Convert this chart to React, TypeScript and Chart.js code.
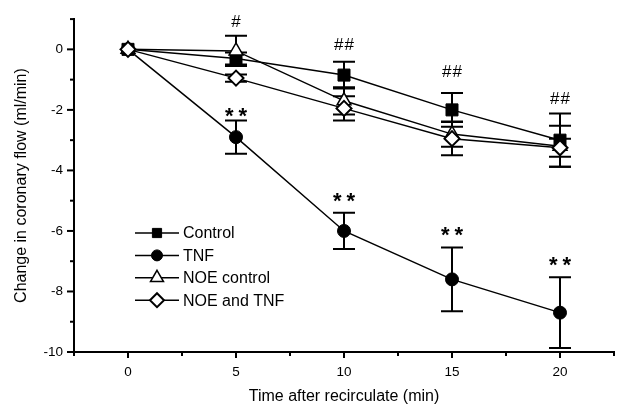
import React, { useEffect, useRef } from 'react';
import { Chart, registerables } from 'chart.js';
import { drawPoint } from 'chart.js/helpers';

Chart.register(...registerables);

const timePoints = [0, 5, 10, 15, 20];
const seriesLabels = ['Control', 'TNF', 'NOE control', 'NOE and TNF'];
const controlMean = [0, -0.3, -0.85, -2.0, -3.0];
const controlErr = [0, 0.2, 0.44, 0.56, 0.88];
const tnfMean = [0, -2.9, -6.0, -7.6, -8.7];
const tnfErr = [0, 0.55, 0.6, 1.05, 1.17];
const noeControlMean = [0, -0.05, -1.7, -2.8, -3.2];
const noeControlErr = [0, 0.5, 0.45, 0.42, 0.68];
const noeTnfMean = [0, -0.95, -1.95, -2.95, -3.25];
const noeTnfErr = [0, 0.12, 0.4, 0.55, 0.3];

const annotX = [5, 10, 15, 20, 5, 10, 15, 20];
const annotY = [0.94, 0.17, -0.73, -1.6, -1.99, -4.8, -5.92, -6.92];
const annotText = ['#', '##', '##', '##', '**', '**', '**', '**'];

const xTickLabels = ['0', '5', '10', '15', '20'];
const yTickLabels = ['0', '-2', '-4', '-6', '-8', '-10'];
const xTitle = 'Time after recirculate (min)';
const yTitle = 'Change in coronary flow (ml/min)';

const FONT = '"Liberation Sans", Arial, Helvetica, sans-serif';

const styles = [
  { pointStyle: 'rect', radius: 8.5, fill: '#000', bw: 1, legendR: 6.5 },
  { pointStyle: 'circle', radius: 6.5, fill: '#000', bw: 1, legendR: 5.5 },
  { pointStyle: 'triangle', radius: 8, fill: '#fff', bw: 1.5, legendR: 7.5 },
  { pointStyle: 'rectRot', radius: 7.5, fill: '#fff', bw: 2, legendR: 7 },
];

const means = [controlMean, tnfMean, noeControlMean, noeTnfMean];
const errs = [controlErr, tnfErr, noeControlErr, noeTnfErr];
const orders = [2, 3, 1, 0];

const customPlugin = {
  id: 'custom',
  beforeDatasetsDraw(chart: any) {
    const ctx = chart.ctx;
    const xs = chart.scales.x;
    const ys = chart.scales.y;
    ctx.save();
    ctx.strokeStyle = '#000';
    ctx.lineWidth = 2;
    errs.forEach((err, si) => {
      timePoints.forEach((t, i) => {
        if (!err[i]) return;
        const px = xs.getPixelForValue(t);
        const top = ys.getPixelForValue(means[si][i] + err[i]);
        const bot = ys.getPixelForValue(means[si][i] - err[i]);
        ctx.beginPath();
        ctx.moveTo(px, top);
        ctx.lineTo(px, bot);
        ctx.moveTo(px - 11, top);
        ctx.lineTo(px + 11, top);
        ctx.moveTo(px - 11, bot);
        ctx.lineTo(px + 11, bot);
        ctx.stroke();
      });
    });
    ctx.restore();
  },
  afterDraw(chart: any) {
    const ctx = chart.ctx;
    const xs = chart.scales.x;
    const ys = chart.scales.y;
    const area = chart.chartArea;
    ctx.save();
    ctx.strokeStyle = '#000';
    ctx.fillStyle = '#000';
    // tick marks
    ctx.lineWidth = 2;
    xs.ticks.forEach((tk: any) => {
      const px = xs.getPixelForValue(tk.value);
      const major = xTickLabels.includes(String(tk.value));
      ctx.beginPath();
      ctx.moveTo(px, area.bottom);
      ctx.lineTo(px, area.bottom + (major ? 6 : 4));
      ctx.stroke();
    });
    ys.ticks.forEach((tk: any) => {
      const py = ys.getPixelForValue(tk.value);
      const major = yTickLabels.includes(String(tk.value));
      ctx.beginPath();
      ctx.moveTo(area.left, py);
      ctx.lineTo(area.left - (major ? 7 : 4), py);
      ctx.stroke();
    });
    // titles
    ctx.font = `16px ${FONT}`;
    ctx.textAlign = 'center';
    ctx.textBaseline = 'middle';
    ctx.fillText(xTitle, (area.left + area.right) / 2, 397);
    ctx.save();
    ctx.translate(22, (area.top + area.bottom) / 2);
    ctx.rotate(-Math.PI / 2);
    ctx.fillText(yTitle, 0, 0);
    ctx.restore();
    // annotations
    ctx.textBaseline = 'alphabetic';
    annotText.forEach((txt, i) => {
      const px = xs.getPixelForValue(annotX[i]);
      const py = ys.getPixelForValue(annotY[i]);
      if (txt.startsWith('#')) {
        ctx.font = `17px ${FONT}`;
        (ctx as any).letterSpacing = '1px';
        ctx.fillText(txt, px + 0.5, py + 6);
      } else {
        ctx.font = `bold 22px ${FONT}`;
        (ctx as any).letterSpacing = '5px';
        ctx.fillText(txt, px + 2.5, py + 13);
      }
    });
    (ctx as any).letterSpacing = '0px';
    // legend
    ctx.font = `16px ${FONT}`;
    ctx.textAlign = 'left';
    ctx.textBaseline = 'middle';
    chart.data.datasets.forEach((ds: any, i: number) => {
      const y = 233 + i * 22.4;
      ctx.lineWidth = 1.5;
      ctx.strokeStyle = '#000';
      ctx.beginPath();
      ctx.moveTo(135, y);
      ctx.lineTo(179, y);
      ctx.stroke();
      const st = styles[i];
      ctx.fillStyle = st.fill;
      ctx.lineWidth = st.bw;
      drawPoint(ctx, { pointStyle: st.pointStyle as any, radius: st.legendR, rotation: 0, borderWidth: st.bw }, 157, y);
      ctx.fillStyle = '#000';
      ctx.fillText(ds.label, 183, y + 1);
    });
    ctx.restore();
  },
};

export default function App() {
  const ref = useRef<HTMLCanvasElement>(null);
  useEffect(() => {
    document.body.style.margin = '0';
    const canvas = ref.current!;
    const chart = new Chart(canvas, {
      type: 'line',
      data: {
        datasets: seriesLabels.map((label, si) => ({
          label,
          data: timePoints.map((t, i) => ({ x: t, y: means[si][i] })),
          borderColor: '#000',
          borderWidth: 1.5,
          backgroundColor: styles[si].fill,
          pointBackgroundColor: styles[si].fill,
          pointBorderColor: '#000',
          pointBorderWidth: styles[si].bw,
          pointStyle: styles[si].pointStyle as any,
          pointRadius: styles[si].radius,
          pointHoverRadius: styles[si].radius,
          fill: false,
          tension: 0,
          order: orders[si],
        })),
      },
      options: {
        responsive: false,
        animation: false,
        events: [],
        layout: { padding: { top: 16, right: 9, left: 0, bottom: 0 } },
        plugins: { legend: { display: false }, tooltip: { enabled: false } },
        scales: {
          x: {
            type: 'linear',
            min: -2.5,
            max: 22.5,
            afterFit: (s: any) => { s.height = 55; },
            grid: { display: false, drawTicks: false },
            border: { display: true, color: '#000', width: 2 },
            ticks: {
              stepSize: 2.5,
              autoSkip: false,
              maxRotation: 0,
              padding: 12,
              color: '#000',
              font: { family: FONT, size: 13.5 },
              callback: (v: any) => (xTickLabels.includes(String(v)) ? String(v) : ''),
            },
          },
          y: {
            type: 'linear',
            min: -10,
            max: 1,
            afterFit: (s: any) => { s.width = 74; },
            grid: { display: false, drawTicks: false },
            border: { display: true, color: '#000', width: 2 },
            ticks: {
              stepSize: 1,
              autoSkip: false,
              padding: 11,
              color: '#000',
              font: { family: FONT, size: 13.5 },
              callback: (v: any) => (yTickLabels.includes(String(v)) ? String(v) : ''),
            },
          },
        },
      },
      plugins: [customPlugin],
    });
    return () => chart.destroy();
  }, []);
  return (
    <div style={{ width: 626, height: 407 }}>
      <canvas ref={ref} width={626} height={407} />
    </div>
  );
}
